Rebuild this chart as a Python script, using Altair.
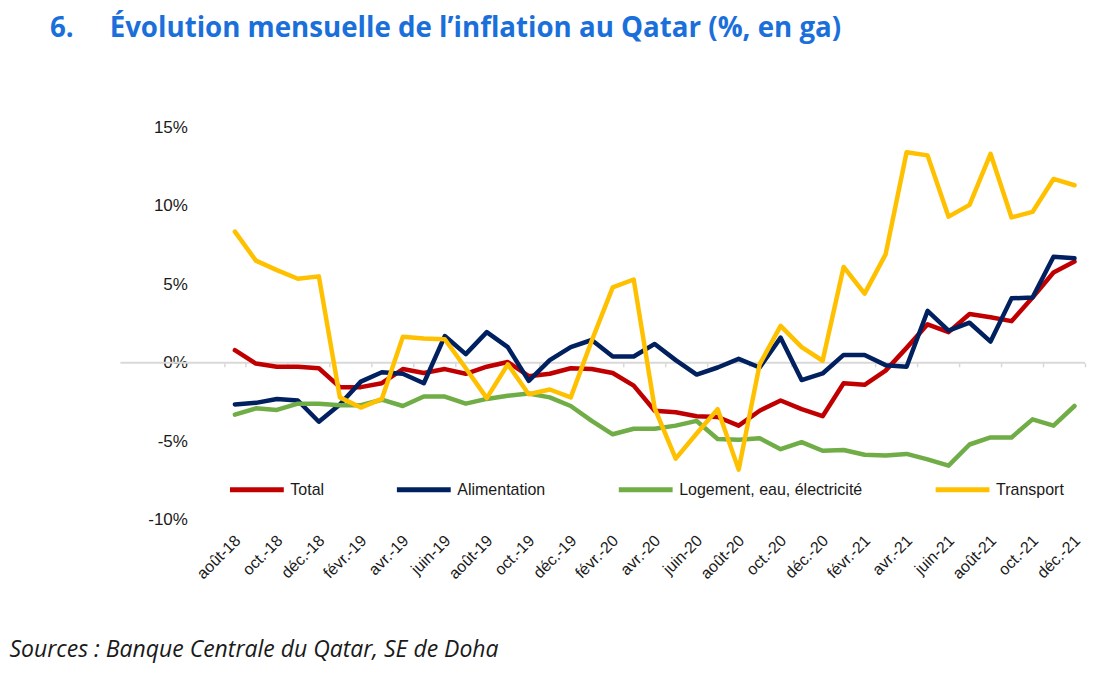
import altair as alt
import pandas as pd

months = ["août-18", "sept.-18", "oct.-18", "nov.-18", "déc.-18",
          "janv.-19", "févr.-19", "mars-19", "avr.-19", "mai-19", "juin-19",
          "juil.-19", "août-19", "sept.-19", "oct.-19", "nov.-19", "déc.-19",
          "janv.-20", "févr.-20", "mars-20", "avr.-20", "mai-20", "juin-20",
          "juil.-20", "août-20", "sept.-20", "oct.-20", "nov.-20", "déc.-20",
          "janv.-21", "févr.-21", "mars-21", "avr.-21", "mai-21", "juin-21",
          "juil.-21", "août-21", "sept.-21", "oct.-21", "nov.-21", "déc.-21"]

total = [0.8, -0.05, -0.25, -0.25, -0.35, -1.55, -1.55, -1.3, -0.4, -0.65,
         -0.4, -0.7, -0.25, 0.05, -0.85, -0.7, -0.35, -0.4, -0.65, -1.45,
         -3.05, -3.15, -3.4, -3.45, -4.0, -3.05, -2.4, -2.95, -3.4, -1.3,
         -1.4, -0.5, 0.95, 2.45, 1.95, 3.1, 2.9, 2.65, 4.15, 5.75, 6.45]

alimentation = [-2.65, -2.55, -2.3, -2.4, -3.75, -2.65, -1.2, -0.6, -0.7, -1.3,
                1.7, 0.55, 1.95, 1.0, -1.15, 0.17, 1.0, 1.45, 0.4, 0.4,
                1.2, 0.17, -0.75, -0.3, 0.25, -0.3, 1.6, -1.1, -0.68, 0.5,
                0.5, -0.15, -0.25, 3.3, 2.05, 2.55, 1.35, 4.1, 4.15, 6.75, 6.65]

logement = [-3.3, -2.9, -3.0, -2.6, -2.6, -2.7, -2.7, -2.35, -2.75, -2.15,
            -2.15, -2.6, -2.3, -2.1, -1.95, -2.2, -2.75, -3.7, -4.55, -4.2,
            -4.2, -4.0, -3.7, -4.85, -4.9, -4.8, -5.5, -5.05, -5.6, -5.55,
            -5.85, -5.9, -5.8, -6.15, -6.55, -5.2, -4.75, -4.75, -3.6, -4.0, -2.75]

transport = [8.35, 6.5, 5.9, 5.35, 5.5, -2.2, -2.85, -2.3, 1.65, 1.55,
             1.5, -0.35, -2.25, -0.1, -2.0, -1.7, -2.2, 1.4, 4.8, 5.3,
             -2.9, -6.1, -4.5, -2.95, -6.8, -0.1, 2.35, 1.0, 0.13, 6.1,
             4.4, 6.9, 13.4, 13.2, 9.3, 10.05, 13.3, 9.25, 9.6, 11.7, 11.3]

series_names = ["Total", "Alimentation", "Logement, eau, électricité", "Transport"]
series_colors = ["#C00000", "#002060", "#70AD47", "#FFC000"]
y_ticks = [-10, -5, 0, 5, 10, 15]
x_labels = months[::2]

rows = []
for name, vals in zip(series_names, [total, alimentation, logement, transport]):
    for m, v in zip(months, vals):
        rows.append({"mois": m, "serie": name, "valeur": v})
df = pd.DataFrame(rows)

W, H = 861, 393
ZERO_OFF = H * 10 / 25  # distance from zero line to bottom of plot

x_enc = alt.X("mois:N", sort=months,
              scale=alt.Scale(type="band", paddingInner=0, paddingOuter=0),
              axis=alt.Axis(values=x_labels, labelAngle=315, domain=False,
                            tickBand="extent", tickColor="#D9D9D9", tickWidth=1.5,
                            tickSize=4, offset=-ZERO_OFF, labelPadding=ZERO_OFF + 8,
                            labelOffset=-3,
                            labelFont="Liberation Sans", labelFontSize=16,
                            labelColor="#1a1a1a",
                            title="Sources : Banque Centrale du Qatar, SE de Doha",
                            titleFont="Open Sans", titleFontSize=23,
                            titleFontStyle="italic", titleFontWeight="normal",
                            titleColor="#1a1a1a", titleAnchor="start",
                            titleAlign="left", titleBaseline="alphabetic",
                            titleX=-215.5, titleY=294),
              bandPosition=0.5)

y_enc = alt.Y("valeur:Q",
              scale=alt.Scale(domain=[-10, 15], nice=False, zero=False),
              axis=alt.Axis(values=y_ticks, labelExpr="datum.value + '%'",
                            domain=False, ticks=False, grid=False,
                            labelPadding=37, labelFont="Liberation Sans",
                            labelFontSize=17, labelColor="#1a1a1a", title=None))

color_enc = alt.Color("serie:N",
                      scale=alt.Scale(domain=series_names, range=series_colors),
                      legend=alt.Legend(orient="none", legendX=3, legendY=333,
                                        direction="horizontal", title=None,
                                        symbolType="stroke", symbolSize=2900,
                                        symbolStrokeWidth=5, labelOffset=4,
                                        labelFont="Liberation Sans",
                                        labelFontSize=16, labelColor="#1a1a1a",
                                        labelLimit=400, columnPadding=62))

zero_rule = alt.Chart(pd.DataFrame({"z": [0]})).mark_rule(
    color="#D9D9D9", strokeWidth=2).encode(
    y=alt.Y("z:Q", scale=alt.Scale(domain=[-10, 15], nice=False, zero=False)),
    x=alt.value(-104), x2=alt.value(W))

layers = [zero_rule]
for name in series_names:
    layers.append(
        alt.Chart(df).transform_filter(alt.datum.serie == name)
        .mark_line(strokeWidth=4.5, strokeCap="round", strokeJoin="round")
        .encode(x=x_enc, y=y_enc, color=color_enc)
    )

chart = alt.layer(*layers).properties(
    width=W, height=H,
    autosize=alt.AutoSizeParams(type="none"),
    padding={"left": 216.5, "top": 119, "right": 2, "bottom": 145},
    title=alt.TitleParams(
        "6.\u00a0\u00a0\u00a0\u00a0\u00a0Évolution mensuelle de l\u2019inflation au Qatar (%, en ga)",
        anchor="start", frame="group", dx=-174.5, offset=53,
        font="Open Sans", fontSize=27.7, fontWeight="bold", color="#1A6FDB",
        baseline="alphabetic"),
).configure_view(stroke=None)

chart.save("out.html", embed_options={"renderer": "svg", "actions": False})
